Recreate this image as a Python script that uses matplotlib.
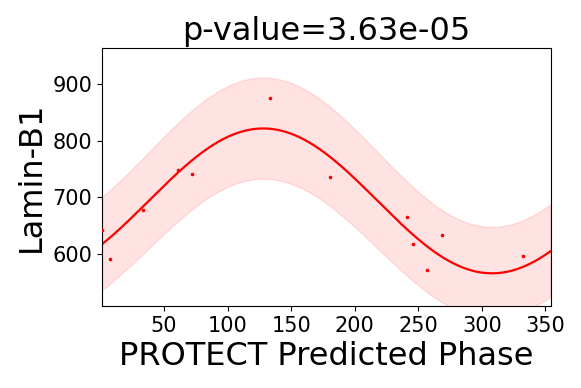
import matplotlib
matplotlib.use('Agg')
import matplotlib.pyplot as plt
import numpy as np

# observed samples
phase = [1.3, 7.8, 33.8, 61.3, 72.3, 133.2, 180.6, 241.3, 245.7, 256.5, 268.3, 332.1]
lamin = [642, 591, 678, 748, 741, 876, 736, 665, 617, 572, 634, 597]

# cosinor fit parameters (mesor, amplitude) for fit and band edges
acrophase = 128
fit_params = (694, 128)
upper_params = (780, 132)
lower_params = (610, 123)
p_value = 3.63e-05

xs = np.linspace(1.3, 354, 400)
c = np.cos(2 * np.pi * (xs - acrophase) / 360)
fit = fit_params[0] + fit_params[1] * c
upper = upper_params[0] + upper_params[1] * c
lower = lower_params[0] + lower_params[1] * c

fig = plt.figure(figsize=(5.81, 3.88), dpi=100)
ax = fig.add_axes([0.1756, 0.211, 0.772, 0.665])
ax.fill_between(xs, lower, upper, color='red', alpha=0.11)
ax.plot(xs, fit, color='red', lw=1.6)
ax.scatter(phase, lamin, color='red', s=2.5, zorder=3)

ax.set_xlim(1.3, 354)
ax.set_ylim(508, 964)
ax.set_xticks([50, 100, 150, 200, 250, 300, 350])
ax.set_yticks([600, 700, 800, 900])
ax.tick_params(labelsize=15)
ax.set_title('p-value=%.2e' % p_value, fontsize=23)
ax.set_xlabel('PROTECT Predicted Phase', fontsize=23)
ax.set_ylabel('Lamin-B1', fontsize=23)

fig.savefig('out.png', dpi=100)
